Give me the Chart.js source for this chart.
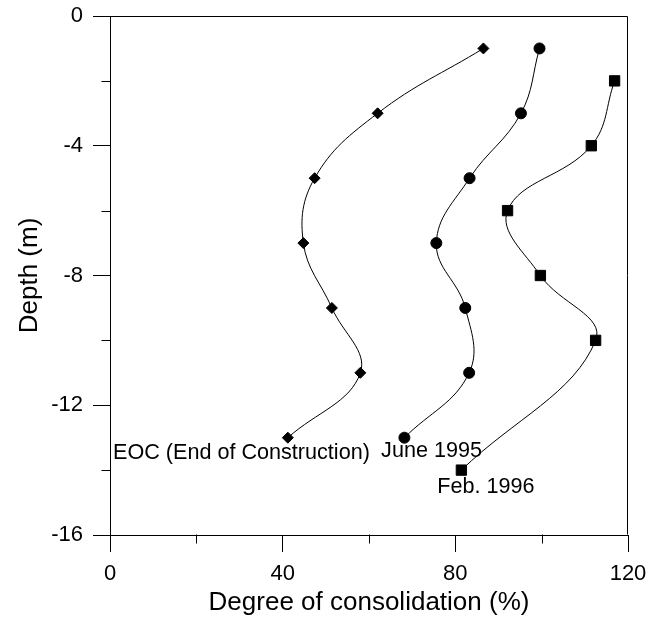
<!DOCTYPE html>
<html>
<head>
<meta charset="utf-8">
<script src="https://cdn.jsdelivr.net/npm/chart.js@4"></script>
<style>
	body { margin: 0; background: #fff; }
	#wrap { width: 662px; height: 621px; }
</style>
</head>
<body>
<div id="wrap"><canvas id="consChart" width="662" height="621"></canvas></div>
<script>
// degree of consolidation (%) against depth (m)
var depthEOC = [-1, -3, -5, -7, -9, -11, -13];
var degreeEOC = [86.5, 62, 47.4, 44.8, 51.4, 58, 41.2];

var depthJune = [-1, -3, -5, -7, -9, -11, -13];
var degreeJune = [99.5, 95.2, 83.3, 75.6, 82.3, 83.2, 68.2];

var depthFeb = [-2, -4, -6, -8, -10, -14];
var degreeFeb = [116.9, 111.5, 92.1, 99.7, 112.5, 81.4];

var seriesNames = ["EOC (End of Construction)", "June 1995", "Feb. 1996"];
var xMinor = [20, 60, 100];
var yMinor = [-2, -6, -10, -14];

function pts(xs, ys){
	return xs.map(function(v, i){ return {x: v, y: ys[i]}; });
}

// where each curve's caption sits, in data units (left edge, baseline)
var captions = [
	{text: seriesNames[0], x: 0.7, y: -13.67},
	{text: seriesNames[1], x: 62.8, y: -13.6},
	{text: seriesNames[2], x: 75.8, y: -14.72}
];

var extras = {
	id: 'extras',
	afterDraw: function(chart){
		var ctx = chart.ctx, a = chart.chartArea;
		var sx = chart.scales.x, sy = chart.scales.y;
		var L = Math.round(a.left) + 0.5, R = Math.round(a.right) - 0.5;
		var T = Math.round(a.top) + 0.5, B = Math.round(a.bottom) - 0.5;
		ctx.save();
		ctx.strokeStyle = '#000';
		ctx.lineWidth = 1;
		ctx.beginPath();
		ctx.moveTo(L, T); ctx.lineTo(R, T); ctx.lineTo(R, B);
		xMinor.forEach(function(v){
			var px = Math.round(sx.getPixelForValue(v)) + 0.5;
			ctx.moveTo(px, B); ctx.lineTo(px, B + 9);
		});
		yMinor.forEach(function(v){
			var py = Math.round(sy.getPixelForValue(v)) + 0.5;
			ctx.moveTo(L, py); ctx.lineTo(L - 9, py);
		});
		ctx.stroke();

		ctx.fillStyle = '#000';
		ctx.font = '21.6px "Liberation Sans", Arial, sans-serif';
		ctx.textAlign = 'left';
		ctx.textBaseline = 'alphabetic';
		captions.forEach(function(c){
			ctx.fillText(c.text, sx.getPixelForValue(c.x), sy.getPixelForValue(c.y));
		});
		ctx.restore();
	}
};

Chart.defaults.font.family = '"Liberation Sans", Arial, sans-serif';
Chart.defaults.color = '#000';

var common = {showLine: true, borderColor: '#000', backgroundColor: '#000', borderWidth: 1, tension: 0.4,
	pointBorderColor: '#000', pointBackgroundColor: '#000', pointBorderWidth: 1};

var conf = {
	type: 'scatter',
	data: {
		datasets: [
			Object.assign({label: seriesNames[0], data: pts(degreeEOC, depthEOC), pointStyle: 'rectRot', pointRadius: 5.5}, common),
			Object.assign({label: seriesNames[1], data: pts(degreeJune, depthJune), pointStyle: 'circle', pointRadius: 5.5}, common),
			Object.assign({label: seriesNames[2], data: pts(degreeFeb, depthFeb), pointStyle: 'rect', pointRadius: 7.3}, common)
		]
	},
	options: {
		responsive: false,
		animation: false,
		layout: {padding: {top: 16, right: 34, left: 0, bottom: 0}},
		plugins: {legend: {display: false}, tooltip: {enabled: false}},
		scales: {
			x: {
				type: 'linear', min: 0, max: 120,
				ticks: {stepSize: 40, padding: 9, font: {size: 22}, color: '#000'},
				grid: {drawOnChartArea: false, drawTicks: true, tickLength: 17, color: '#000'},
				border: {color: '#000', width: 1},
				title: {display: true, text: 'Degree of consolidation (%)', font: {size: 26}, color: '#000', padding: {top: 0, bottom: 3}},
				afterFit: function(s){ s.height = 86; s.paddingLeft = 0; s.paddingRight = 0; }
			},
			y: {
				type: 'linear', min: -16, max: 0,
				ticks: {stepSize: 4, padding: 10, font: {size: 22}, color: '#000'},
				grid: {drawOnChartArea: false, drawTicks: true, tickLength: 17, color: '#000'},
				border: {color: '#000', width: 1},
				title: {display: true, text: 'Depth (m)', font: {size: 26}, color: '#000', padding: {top: 14, bottom: 0}},
				afterFit: function(s){ s.width = 110; s.paddingTop = 0; s.paddingBottom = 0; }
			}
		}
	},
	plugins: [extras]
};

var ctx = document.getElementById("consChart").getContext("2d");
var consChart = new Chart(ctx, conf);
</script>
</body>
</html>
